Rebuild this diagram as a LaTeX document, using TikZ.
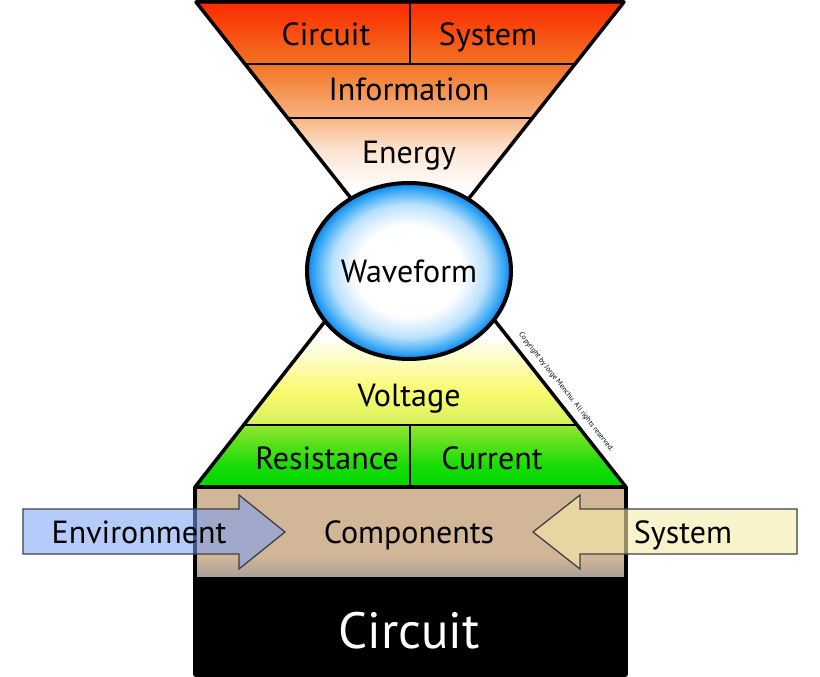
\documentclass[tikz,border=0pt]{standalone}
\usepackage{fontspec}
\setmainfont{PT Sans}
\usetikzlibrary{calc, shapes.geometric}

\definecolor{funnelred}{RGB}{252,42,0}
\definecolor{funnelorange}{RGB}{242,115,35}
\definecolor{funnelpeach}{RGB}{249,180,130}
\definecolor{funnelpale}{RGB}{252,228,210}
\definecolor{voltyellow}{RGB}{250,250,110}
\definecolor{voltlime}{RGB}{215,242,95}
\definecolor{greenlight}{RGB}{140,230,45}
\definecolor{greenmid}{RGB}{25,220,5}
\definecolor{greendeep}{RGB}{0,215,0}
\definecolor{glowmid}{RGB}{185,225,252}
\definecolor{glowblue}{RGB}{60,170,245}
\definecolor{glowedge}{RGB}{10,130,235}
\definecolor{parttan}{RGB}{210,182,152}
\definecolor{partshadow}{RGB}{168,160,152}
\definecolor{envblue}{RGB}{120,160,245}
\definecolor{sysyellow}{RGB}{245,235,170}

\pgfdeclareverticalshading{topfade}{100bp}{color(0bp)=(white); color(40.3bp)=(white); color(47.7bp)=(funnelpale); color(53.6bp)=(funnelpeach); color(63.6bp)=(funnelorange); color(75bp)=(funnelred); color(100bp)=(funnelred)}
\pgfdeclareverticalshading{bottomfade}{100bp}{color(0bp)=(greendeep); color(25bp)=(greendeep); color(29bp)=(greenmid); color(36bp)=(greenlight); color(36.7bp)=(voltlime); color(42.5bp)=(voltyellow); color(52.5bp)=(white); color(100bp)=(white)}
\pgfdeclareverticalshading{partsfade}{100bp}{color(0bp)=(partshadow); color(25bp)=(partshadow); color(36bp)=(parttan); color(100bp)=(parttan)}
\pgfdeclareradialshading{waveglow}{\pgfpoint{0bp}{0bp}}{color(0bp)=(white); color(13bp)=(white); color(19bp)=(glowmid); color(23bp)=(glowblue); color(25bp)=(glowedge); color(50bp)=(glowedge)}

\begin{document}
\begin{tikzpicture}[x=1pt, y=-1pt]
    \tikzstyle{word} = [font=\fontsize{32}{38}\selectfont, anchor=base, inner sep=0pt]
    \tikzstyle{edge} = [line width=3.5pt, line join=round]
    \tikzstyle{rule} = [line width=2pt]
    \tikzstyle{blockarrow} = [draw=black!75, line width=1.3pt]

    \useasboundingbox (0,0) rectangle (820,677);

    % corners of the two funnels
    \coordinate (tl) at (196,2);
    \coordinate (tr) at (624,2);
    \coordinate (ta) at (410,273);
    \coordinate (bl) at (195,487);
    \coordinate (br) at (626,487);
    \coordinate (ba) at (410,213);

    \shade[shading=topfade] (tl) -- (tr) -- (ta) -- cycle;
    \shade[shading=bottomfade] (bl) -- (br) -- (ba) -- cycle;

    \draw [rule] ($(tl)!0.2288!(ta)$) -- ($(tr)!0.2288!(ta)$);
    \draw [rule] ($(tl)!0.4280!(ta)$) -- ($(tr)!0.4280!(ta)$);
    \draw [rule] (410,2) -- (410,64);
    \draw [rule] ($(bl)!0.2263!(ba)$) -- ($(br)!0.2263!(ba)$);
    \draw [rule] (410,425) -- (410,487);

    \draw [edge] (ta) -- (tl) -- (tr) -- (ta);
    \draw [edge] (ba) -- (bl) -- (br) -- (ba);

    % the box at the bottom
    \shade[shading=partsfade] (195,487) rectangle (626,577);
    \fill [black] (195,577) rectangle (626,675);
    \draw [edge] (195,487) rectangle (626,675);

    \node (wave) [ellipse, draw, line width=4pt, shade, shading=waveglow,
                  minimum width=204pt, minimum height=176pt, inner sep=0pt,
                  font=\fontsize{32}{38}\selectfont] at (409,271) {Waveform};

    \draw [blockarrow, fill=envblue, fill opacity=0.55]
        (23,509) -- (239,509) -- (239,495) -- (285,532) -- (239,569) -- (239,554) -- (23,554) -- cycle;
    \draw [blockarrow, fill=sysyellow, fill opacity=0.6]
        (797,509) -- (580,509) -- (580,495) -- (533,532) -- (580,569) -- (580,554) -- (797,554) -- cycle;

    \node (circtop) [word] at (326,46)  {Circuit};
    \node (systop)  [word] at (488,46)  {System};
    \node (info)    [word] at (409,100) {Information};
    \node (energy)  [word] at (409,163) {Energy};
    \node (volt)    [word] at (409,406) {Voltage};
    \node (resist)  [word] at (327,469) {Resistance};
    \node (current) [word] at (492,469) {Current};
    \node (comp)    [word] at (409,543) {Components};
    \node (env)     [word] at (139,543) {Environment};
    \node (sys)     [word] at (683,543) {System};
    \node (circuit) [word, text=white, font=\fontsize{51}{60}\selectfont] at (409,648) {Circuit};

    \node (copy) [font=\fontsize{7.4}{9}\selectfont, rotate=-51.8, inner sep=0pt] at (566,392)
        {Copyright by Jorge Menchu. All rights reserved.};
\end{tikzpicture}
\end{document}
